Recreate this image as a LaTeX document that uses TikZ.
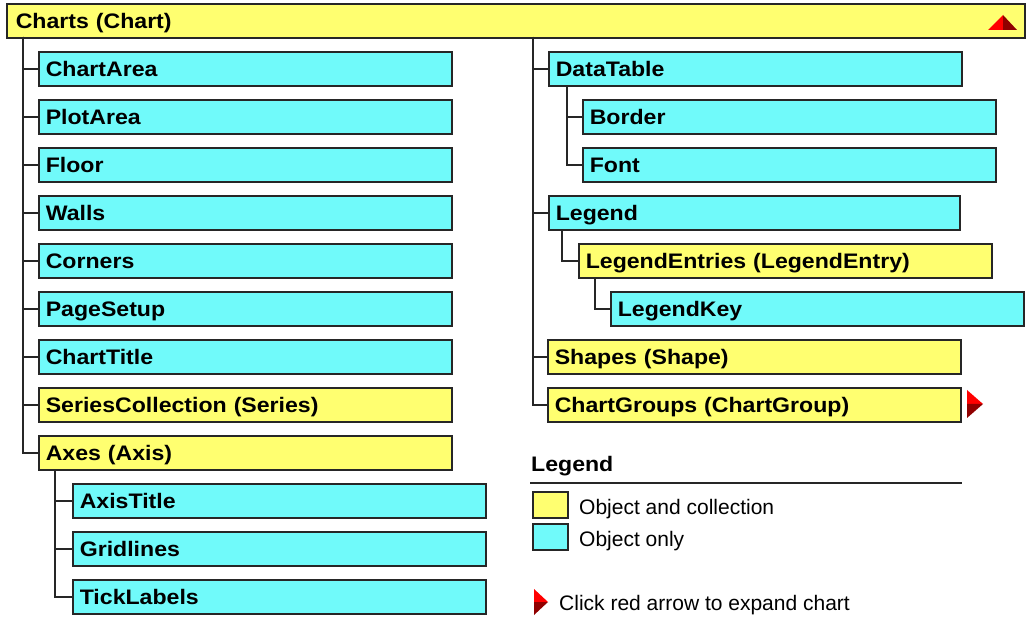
\documentclass[tikz,border=0pt]{standalone}
\usepackage{fontspec}
\setmainfont{Liberation Sans}[BoldFeatures={FakeStretch=1.1}]
\definecolor{objcoll}{HTML}{FFFF70}
\definecolor{objonly}{HTML}{70FAFA}
\definecolor{arrred}{HTML}{FF0000}
\definecolor{arrdark}{HTML}{900000}
\begin{document}
\begin{tikzpicture}[x=1pt,y=-1pt,
  every node/.style={font=\fontsize{21}{25}\selectfont},
  basebox/.style={draw=black!85, line width=1.6pt, rectangle, anchor=north west,
    minimum height=34pt, inner xsep=7pt, inner ysep=0pt,
    text height=16pt, text depth=1pt, text width=#1, align=left, font=\fontsize{21}{25}\selectfont\bfseries},
  basebox/.default=399pt,
  ybox/.style={basebox=#1, fill=objcoll},
  ybox/.default=399pt,
  cbox/.style={basebox=#1, fill=objonly},
  cbox/.default=399pt,
  swatch/.style={draw=black!85, line width=1.6pt, rectangle, anchor=north west,
    minimum width=35pt, minimum height=26pt, inner sep=0pt},
  conn/.style={draw=black!85, line width=1.6pt},
  lbl/.style={anchor=west, inner sep=0pt, text height=16pt, text depth=1pt}
]
\useasboundingbox (0,0) rectangle (1029,620);

% top box
\node[ybox=1000pt, inner xsep=9pt] (charts) at (6,3) {Charts (Chart)};
\fill[arrred] (988,30) -- (1003,15) -- (1003,30) -- cycle;
\fill[arrdark] (1003,15) -- (1017,30) -- (1003,30) -- cycle;

% left column
\node[cbox] (chartarea) at (38,51)  {ChartArea};
\node[cbox] (plotarea)  at (38,99)  {PlotArea};
\node[cbox] (floor)     at (38,147) {Floor};
\node[cbox] (walls)     at (38,195) {Walls};
\node[cbox] (corners)   at (38,243) {Corners};
\node[cbox] (pagesetup) at (38,291) {PageSetup};
\node[cbox] (charttitle) at (38,339) {ChartTitle};
\node[ybox] (seriescoll) at (38,387) {SeriesCollection (Series)};
\node[ybox] (axes)      at (38,435) {Axes (Axis)};
\node[cbox] (axistitle) at (72,483) {AxisTitle};
\node[cbox] (gridlines) at (72,531) {Gridlines};
\node[cbox] (ticklabels) at (72,579) {TickLabels};

% right column
\node[cbox] (datatable) at (548,51)  {DataTable};
\node[cbox] (border)    at (582,99)  {Border};
\node[cbox] (font)      at (582,147) {Font};
\node[cbox=397pt] (legend) at (548,195) {Legend};
\node[ybox] (legentries) at (578,243) {LegendEntries (LegendEntry)};
\node[cbox] (legkey)    at (610,291) {LegendKey};
\node[ybox] (shapes)    at (547,339) {Shapes (Shape)};
\node[ybox] (chartgroups) at (547,387) {ChartGroups (ChartGroup)};
\fill[arrred] (967,390) -- (983,404) -- (967,404) -- cycle;
\fill[arrdark] (967,404) -- (983,404) -- (967,418) -- cycle;

% connector anchor points
\coordinate (tl) at (23,37);
\coordinate (tr) at (533,37);
\coordinate (ax) at (55,470);
\coordinate (dt) at (567,86);
\coordinate (lg) at (562,230);
\coordinate (le) at (595,278);

\foreach \n in {chartarea,plotarea,floor,walls,corners,pagesetup,charttitle,seriescoll,axes}
  \draw[conn] (tl) |- (\n.west);
\foreach \n in {axistitle,gridlines,ticklabels}
  \draw[conn] (ax) |- (\n.west);
\foreach \n in {datatable,legend,shapes,chartgroups}
  \draw[conn] (tr) |- (\n.west);
\foreach \n in {border,font}
  \draw[conn] (dt) |- (\n.west);
\draw[conn] (lg) |- (legentries.west);
\draw[conn] (le) |- (legkey.west);

% legend
\node[lbl, font=\fontsize{21}{25}\selectfont\bfseries] (legtitle) at (531,464) {Legend};
\coordinate (rulea) at (530,483);
\coordinate (ruleb) at (962,483);
\draw[conn] (rulea) -- (ruleb);
\node[swatch, fill=objcoll] (swy) at (532,491) {};
\node[swatch, fill=objonly] (swc) at (532,523) {};
\node[lbl] (ltxt1) at (579,507) {Object and collection};
\node[lbl] (ltxt2) at (579,539) {Object only};
\fill[arrred] (534,589) -- (548,602) -- (534,602) -- cycle;
\fill[arrdark] (534,602) -- (548,602) -- (534,615) -- cycle;
\node[lbl] (ltxt3) at (559,603) {Click red arrow to expand chart};
\end{tikzpicture}
\end{document}
